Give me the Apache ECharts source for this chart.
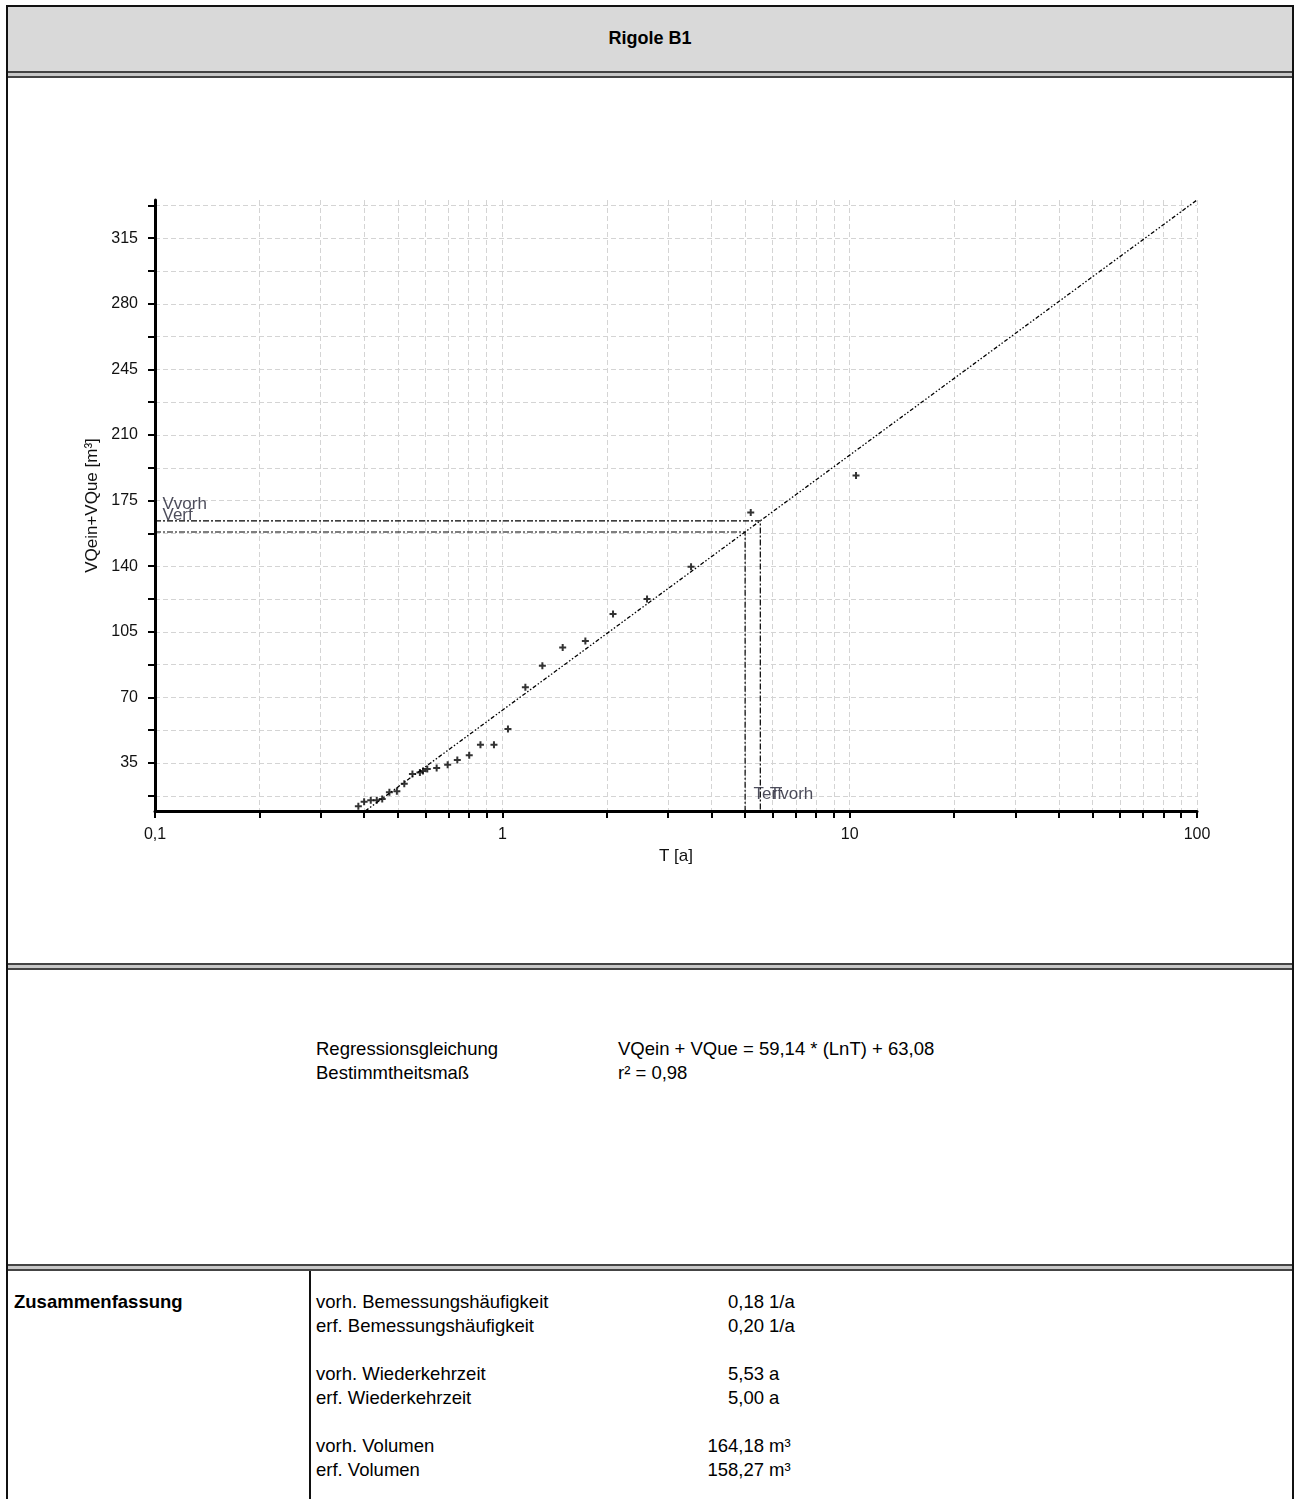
<!DOCTYPE html>
<html>
<head>
<meta charset="utf-8">
<script src="https://cdn.jsdelivr.net/npm/echarts@6/dist/echarts.min.js"></script>
<style>
  html, body { margin: 0; padding: 0; background: #fff; }
  body { width: 1298px; height: 1499px; position: relative; overflow: hidden;
         font-family: Arial, "Liberation Sans", sans-serif; color: #000; }
  .abs { position: absolute; }
  .txt { position: absolute; font-size: 18.5px; line-height: 20px; white-space: nowrap; }
  .b { font-weight: bold; }
  .num { position: absolute; font-size: 18.5px; line-height: 20px; white-space: nowrap; text-align: right; width: 120px; }
</style>
</head>
<body>
<!-- outer frame -->
<div class="abs" style="left:6px;top:5px;width:1288px;height:2px;background:#111"></div>
<div class="abs" style="left:6px;top:5px;width:2px;height:1494px;background:#111"></div>
<div class="abs" style="left:1292px;top:5px;width:2px;height:1494px;background:#111"></div>
<!-- title band -->
<div class="abs" style="left:8px;top:7px;width:1284px;height:64px;background:#d9d9d9"></div>
<div class="txt b" style="left:8px;top:28px;width:1284px;text-align:center;font-size:18px;">Rigole B1</div>
<!-- separators -->
<div class="abs" style="left:8px;top:71px;width:1284px;height:2px;background:#444"></div>
<div class="abs" style="left:8px;top:73px;width:1284px;height:3px;background:#c8c8c8"></div>
<div class="abs" style="left:8px;top:76px;width:1284px;height:2px;background:#444"></div>

<div class="abs" style="left:8px;top:963px;width:1284px;height:2px;background:#444"></div>
<div class="abs" style="left:8px;top:965px;width:1284px;height:3px;background:#c8c8c8"></div>
<div class="abs" style="left:8px;top:968px;width:1284px;height:2px;background:#444"></div>

<div class="abs" style="left:8px;top:1264px;width:1284px;height:2px;background:#444"></div>
<div class="abs" style="left:8px;top:1266px;width:1284px;height:3px;background:#c8c8c8"></div>
<div class="abs" style="left:8px;top:1269px;width:1284px;height:2px;background:#444"></div>
<div class="abs" style="left:309px;top:1271px;width:2px;height:228px;background:#111"></div>

<!-- regression text -->
<div class="txt" style="left:316px;top:1039px;">Regressionsgleichung</div>
<div class="txt" style="left:316px;top:1063px;">Bestimmtheitsmaß</div>
<div class="txt" style="left:618px;top:1039px;">VQein + VQue = 59,14 * (LnT) + 63,08</div>
<div class="txt" style="left:618px;top:1063px;">r² = 0,98</div>

<!-- summary -->
<div class="txt b" style="left:14px;top:1292px;">Zusammenfassung</div>
<div class="txt" style="left:316px;top:1292px;">vorh. Bemessungshäufigkeit</div>
<div class="txt" style="left:316px;top:1316px;">erf. Bemessungshäufigkeit</div>
<div class="txt" style="left:316px;top:1364px;">vorh. Wiederkehrzeit</div>
<div class="txt" style="left:316px;top:1388px;">erf. Wiederkehrzeit</div>
<div class="txt" style="left:316px;top:1436px;">vorh. Volumen</div>
<div class="txt" style="left:316px;top:1460px;">erf. Volumen</div>

<div class="num" style="left:644px;top:1292px;">0,18</div><div class="txt" style="left:769px;top:1292px;">1/a</div>
<div class="num" style="left:644px;top:1316px;">0,20</div><div class="txt" style="left:769px;top:1316px;">1/a</div>
<div class="num" style="left:644px;top:1364px;">5,53</div><div class="txt" style="left:769px;top:1364px;">a</div>
<div class="num" style="left:644px;top:1388px;">5,00</div><div class="txt" style="left:769px;top:1388px;">a</div>
<div class="num" style="left:644px;top:1436px;">164,18</div><div class="txt" style="left:769px;top:1436px;">m³</div>
<div class="num" style="left:644px;top:1460px;">158,27</div><div class="txt" style="left:769px;top:1460px;">m³</div>

<div id="chart" class="abs" style="left:9px;top:78px;width:1283px;height:885px;"></div>

<script>
// ---- data ----
var pointsT = [0.385, 0.400, 0.418, 0.435, 0.451, 0.473, 0.497, 0.522, 0.551, 0.579, 0.591, 0.608, 0.647, 0.696, 0.742, 0.803, 0.865, 0.946, 1.038, 1.165, 1.304, 1.492, 1.734, 2.083, 2.610, 3.494, 5.190, 10.43];
var pointsV = [12.0, 14.3, 15.1, 15.1, 15.8, 19.4, 20.0, 23.9, 29.1, 30.0, 30.7, 31.8, 32.3, 34.1, 36.6, 39.1, 44.7, 44.7, 53.1, 75.4, 86.9, 96.7, 100.1, 114.5, 122.5, 139.7, 168.7, 188.4];
var regressionT = [0.403, 100];
var regressionV = [9.4, 335.4];
var tVorh = 5.53, vVorh = 164.18;
var tErf = 5.00, vErf = 158.27;
var yMin = 9.4, yMax = 335.4;
var xTicks = [0.1,0.2,0.3,0.4,0.5,0.6,0.7,0.8,0.9,1,2,3,4,5,6,7,8,9,10,20,30,40,50,60,70,80,90,100];
var xLabels = [0.1, 1, 10, 100];
var yTicks = [17.5,35,52.5,70,87.5,105,122.5,140,157.5,175,192.5,210,227.5,245,262.5,280,297.5,315,332.5];
var yLabels = [35,70,105,140,175,210,245,280,315];

// ---- chart ----
var chart = echarts.init(document.getElementById('chart'), null, {renderer: 'canvas'});
var scatterData = pointsT.map(function (t, i) { return [t, pointsV[i]]; });
var regData = regressionT.map(function (t, i) { return [t, regressionV[i]]; });
var dashDot = [6, 2, 2, 2];
var FONT = 'Arial, "Liberation Sans", sans-serif';
function lbl(text, dx) {
  return { show: true, formatter: text, position: [dx, -16], align: 'left', verticalAlign: 'middle',
           fontFamily: FONT, fontSize: 17, color: '#222233' };
}
var plus = 'path://M2.5,0H4.5V2.5H7V4.5H4.5V7H2.5V4.5H0V2.5H2.5Z';

chart.setOption({
  animation: false,
  grid: { left: 146, right: 95, top: 122, bottom: 152, containLabel: false },
  xAxis: {
    type: 'log', logBase: 10, min: 0.1, max: 100,
    name: 'T [a]', nameLocation: 'middle', nameGap: 37,
    nameTextStyle: { fontFamily: FONT, fontSize: 17, color: '#111' },
    axisLine: { show: true, onZero: false, lineStyle: { color: '#000', width: 3 } },
    axisTick: { show: true, inside: false, length: 7, customValues: xTicks, lineStyle: { color: '#000', width: 2 } },
    axisLabel: { show: true, margin: 16, customValues: xLabels, fontFamily: FONT, fontSize: 16, color: '#111',
                 formatter: function (v) { return String(+(+v).toPrecision(6)).replace('.', ','); } },
    splitLine: { show: true, lineStyle: { color: '#d4d4d4', width: 1, type: [5, 3] } },
    minorTick: { show: false }
  },
  yAxis: {
    type: 'value', min: yMin, max: yMax,
    name: 'VQein+VQue [m³]', nameLocation: 'middle', nameGap: 48, nameRotate: 90,
    nameTextStyle: { fontFamily: FONT, fontSize: 17, color: '#111' },
    axisLine: { show: true, onZero: false, lineStyle: { color: '#000', width: 3 } },
    axisTick: { show: true, inside: false, length: 7, customValues: yTicks, lineStyle: { color: '#000', width: 2 } },
    axisLabel: { show: true, margin: 17, customValues: yLabels, fontFamily: FONT, fontSize: 16, color: '#111' },
    splitLine: { show: true, lineStyle: { color: '#d4d4d4', width: 1, type: [5, 3] } }
  },
  series: [
    {
      type: 'line', data: regData, symbol: 'none', silent: true,
      lineStyle: { color: '#000', width: 1.3, type: [4, 2, 1.5, 2, 1.5, 2] }, z: 3
    },
    {
      type: 'line', data: [[xTicks[0], vVorh], [tVorh, vVorh], [tVorh, yMin]], symbol: 'none', silent: true,
      lineStyle: { color: '#000', width: 1.2, type: dashDot }, z: 3
    },
    {
      type: 'line', data: [[xTicks[0], vErf], [tErf, vErf], [tErf, yMin]], symbol: 'none', silent: true,
      lineStyle: { color: '#000', width: 1.2, type: dashDot }, z: 3
    },
    {
      type: 'scatter', data: scatterData, symbol: plus, symbolSize: 7,
      itemStyle: { color: '#000' }, z: 4
    },
    {
      type: 'scatter', clip: false, symbolSize: 1, itemStyle: { color: 'rgba(0,0,0,0)' }, silent: true, z: 5,
      data: [
        { value: [xTicks[0], vVorh], label: lbl('Vvorh', 8) },
        { value: [xTicks[0], vErf], label: lbl('Verf', 8) },
        { value: [tErf, yMin], label: lbl('Terf', 9) },
        { value: [tVorh, yMin], label: lbl('Tvorh', 10) }
      ]
    }
  ]
});
</script>
</body>
</html>
